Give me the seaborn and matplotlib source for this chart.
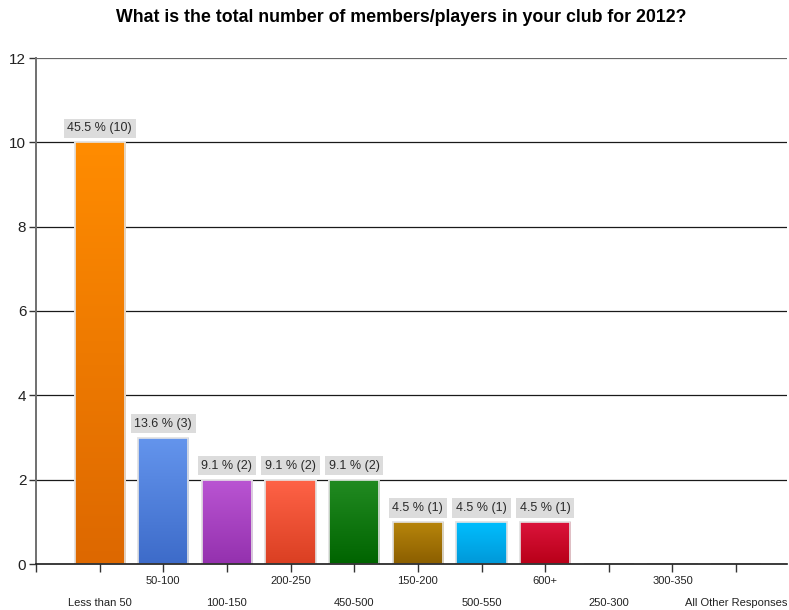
import numpy as np
import pandas as pd
import matplotlib
matplotlib.use("Agg")
import matplotlib.pyplot as plt
import seaborn as sns
from matplotlib.colors import LinearSegmentedColormap
from matplotlib.transforms import ScaledTranslation

# Survey responses
categories = ["Less than 50", "50-100", "100-150", "200-250", "450-500", "150-200",
              "500-550", "600+", "250-300", "300-350", "All Other Responses"]
counts = [10, 3, 2, 2, 2, 1, 1, 1, 0, 0, 0]
total_responses = 22

# Gradient colours for each bar (top, bottom)
top_colors = ["#FF8C00", "#6495ED", "#BA55D3", "#FF6347", "#228B22",
              "#B8860B", "#00BFFF", "#DC143C", "#999999", "#999999", "#999999"]
bottom_colors = ["#DD6800", "#3D6BC9", "#9431AE", "#DA3F22", "#006400",
                 "#8B5E00", "#0098D8", "#B80018", "#777777", "#777777", "#777777"]

df = pd.DataFrame({"category": categories, "count": counts})

sns.set_theme(style="white")
plt.rcParams["font.family"] = ["Liberation Sans", "DejaVu Sans"]

fig = plt.figure(figsize=(7.89, 6.10), dpi=100)
ax = fig.add_axes([36 / 789, 46 / 610, (787 - 36) / 789, (564 - 58) / 610])

sns.barplot(data=df, x="category", y="count", hue="category", palette=top_colors,
            legend=False, width=0.79, ax=ax, edgecolor="#E4E4E4", linewidth=1.2,
            order=categories, hue_order=categories)

ax.set_xlim(-1, 10.8)
ax.set_ylim(0, 12)

# Paint vertical gradients inside each bar
grad = np.linspace(0, 1, 256).reshape(-1, 1)
for patch, cat in zip(ax.patches, categories):
    i = categories.index(cat)
    h = patch.get_height()
    if h <= 0:
        continue
    x0 = patch.get_x()
    w = patch.get_width()
    cmap = LinearSegmentedColormap.from_list(f"g{i}", [top_colors[i], bottom_colors[i]])
    im = ax.imshow(grad, cmap=cmap, aspect="auto", extent=(x0, x0 + w, 0, h),
                   origin="upper", zorder=patch.get_zorder() + 0.1)
    im.set_clip_path(patch)
    edge = plt.Rectangle((x0, 0), w, h, fill=False, edgecolor="#E4E4E4",
                         linewidth=1.2, zorder=patch.get_zorder() + 0.2)
    ax.add_patch(edge)
ax.set_xlim(-1, 10.8)
ax.set_ylim(0, 12)

# Value labels with grey boxes
for i, n in enumerate(counts):
    if n <= 0:
        continue
    pct = n / total_responses * 100
    ax.annotate(f"{pct:.1f} % ({n})", xy=(i, n), xytext=(0, 14),
                textcoords="offset pixels",
                ha="center", va="center", fontsize=9, color="#2a2a2a",
                bbox=dict(boxstyle="square,pad=0.3", facecolor="#DCDCDC", edgecolor="none"),
                zorder=5)

# Gridlines
ax.set_yticks([0, 2, 4, 6, 8, 10, 12])
for y in [2, 4, 6, 8, 10]:
    ax.axhline(y, color="#1a1a1a", linewidth=0.9, zorder=0)
ax.axhline(12, color="#666666", linewidth=1.6, zorder=0)

# Spines
for s in ["top", "right"]:
    ax.spines[s].set_visible(False)
ax.spines["left"].set_color("#707070")
ax.spines["left"].set_linewidth(1.4)
ax.spines["bottom"].set_color("#1a1a1a")
ax.spines["bottom"].set_linewidth(1.2)

# Ticks
ax.set_xticks([-1] + list(range(len(categories))))
ax.set_xticklabels([""] + categories, fontsize=8, color="#222222")
ax.tick_params(axis="x", length=6, width=1, color="#333333", pad=3, bottom=True)
ax.tick_params(axis="y", length=5, width=1, color="#333333", pad=2, left=True,
               labelsize=11, labelcolor="#222222")

# Stagger the category labels on two rows
shift = ScaledTranslation(0, -21 / 100, fig.dpi_scale_trans)
for k, lab in enumerate(ax.get_xticklabels()):
    idx = k - 1
    if idx >= 0 and idx % 2 == 0:
        lab.set_transform(lab.get_transform() + shift)

ax.set_xlabel("")
ax.set_ylabel("")

fig.text(0.508, 1 - 18 / 610, "What is the total number of members/players in your club for 2012?",
         ha="center", va="center", fontsize=12.8, fontweight="bold", color="#000000")

fig.savefig("out.png", dpi=100, facecolor="white")
